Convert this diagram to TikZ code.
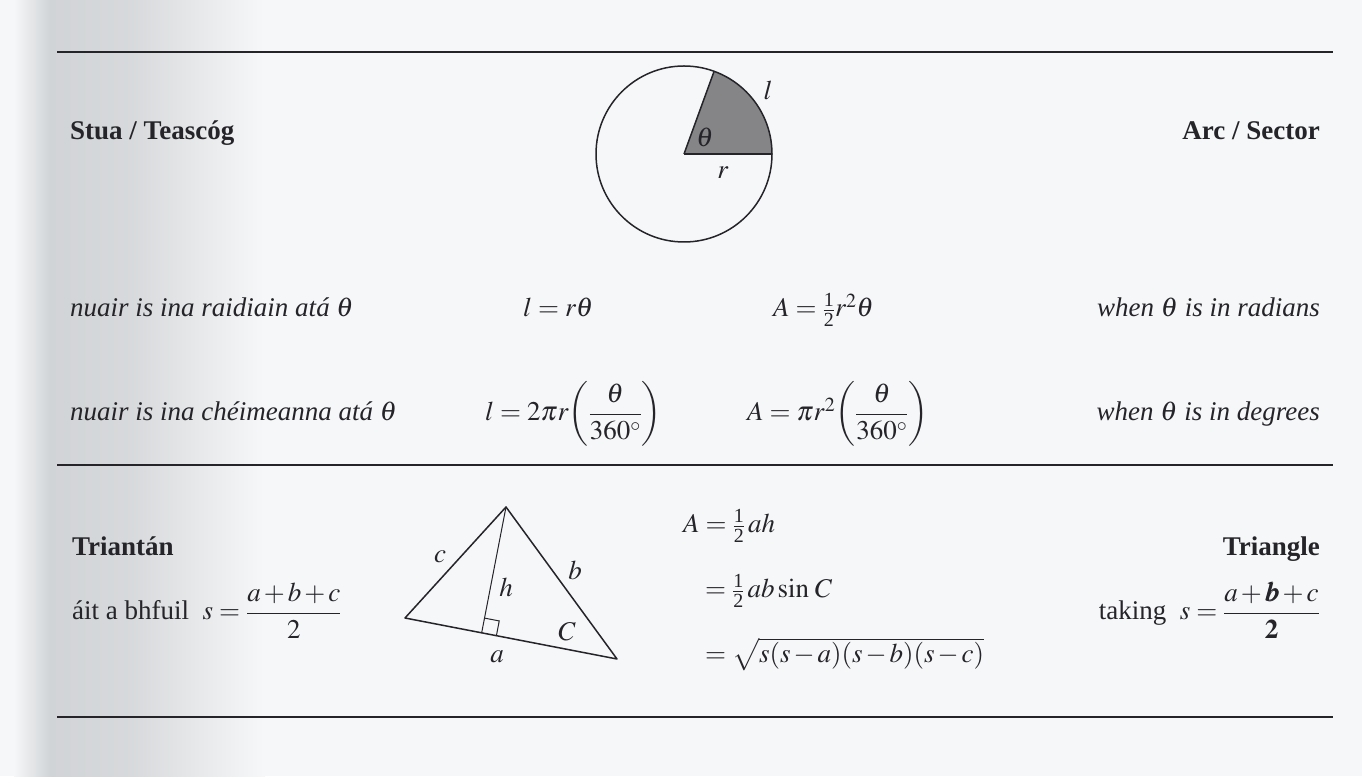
\documentclass[tikz,border=0pt]{standalone}
\usepackage{amsmath}
\usepackage{mathptmx}
\usepackage{bm}
\usepackage[no-math]{fontspec}
\setmainfont{Liberation Serif}
\usetikzlibrary{calc}
\definecolor{paper}{rgb}{0.965,0.970,0.975}
\definecolor{ink}{rgb}{0.14,0.14,0.16}
\definecolor{scan}{rgb}{0.82,0.83,0.84}
\definecolor{sectorfill}{rgb}{0.52,0.52,0.53}
\newcommand{\halff}{\genfrac{}{}{}{1}{\mbox{\fontsize{20}{20}\selectfont 1}}{\mbox{\fontsize{20}{20}\selectfont 2}}}
\newcommand{\tightmath}{\thickmuskip=4mu\medmuskip=2mu}
\begin{document}
\begin{tikzpicture}[x=1pt,y=1pt,
  every node/.style={inner sep=0pt, text=ink, font=\fontsize{27}{32}\selectfont},
  rulebar/.style={line width=1.6pt, draw=ink},
  figline/.style={line width=1.5pt, draw=ink, line join=round},
  lbl/.style={anchor=base west},
  rlbl/.style={anchor=base east},
  fig/.style={anchor=center}]
\useasboundingbox (0,0) rectangle (1362,776);
\fill[paper] (0,0) rectangle (1362,776);
\shade[left color=paper, right color=scan] (14,0) rectangle (50,776);
\shade[left color=scan, right color=scan!85!paper] (50,0) rectangle (130,776);
\shade[left color=scan!85!paper, right color=paper] (130,0) rectangle (265,776);

% rules
\coordinate (t1) at (57,724); \coordinate (t2) at (1333,724);
\coordinate (m1) at (57,311); \coordinate (m2) at (1333,311);
\coordinate (b1) at (57,59);  \coordinate (b2) at (1333,59);
\draw[rulebar] (t1) -- (t2);
\draw[rulebar] (m1) -- (m2);
\draw[rulebar] (b1) -- (b2);

% ---- Arc / Sector ----
\node[lbl] (stua) at (70,636) {\textbf{Stua / Teascóg}};
\node[rlbl] (arcsec) at (1320,636) {\textbf{Arc / Sector}};
\coordinate (O) at (684,622);
\fill[sectorfill] (O) -- ++(0:88) arc[start angle=0, end angle=70, radius=88] -- cycle;
\draw[figline] (O) circle[radius=88];
\draw[figline] (O) -- ++(0:88);
\draw[figline] (O) -- ++(70:88);
\node[fig] (th) at (705,639) {$\theta$};
\node[fig] (ll) at (768,686) {$l$};
\node[fig] (rr) at (723,603) {$r$};

\node[lbl] (rad) at (70,459) {\textit{nuair is ina raidiain atá $\theta$}};
\node[lbl] (f1) at (523,459) {$\tightmath l=r\theta$};
\node[lbl] (f2) at (773,459) {$\tightmath A=\halff r^{2}\theta$};
\node[rlbl] (radE) at (1320,459) {\textit{when $\theta$ is in radians}};

\node[lbl] (deg) at (70,355) {\textit{nuair is ina chéimeanna atá $\theta$}};
\node[lbl] (f3) at (485,355) {$\tightmath l=2\pi r\!\left(\dfrac{\theta}{360^{\circ}}\right)$};
\node[lbl] (f4) at (747,355) {$\tightmath A=\pi r^{2}\!\left(\dfrac{\theta}{360^{\circ}}\right)$};
\node[rlbl] (degE) at (1320,355) {\textit{when $\theta$ is in degrees}};

% ---- Triangle ----
\node[lbl] (trian) at (72,220) {\textbf{Triantán}};
\node[lbl] (sga) at (72,156) {áit a bhfuil~ $\tightmath s=\dfrac{a+b+c}{2}$};
\node[rlbl] (tri) at (1320,220) {\textbf{Triangle}};
\node[rlbl] (sen) at (1320,156) {taking~ $\tightmath s=\dfrac{a+\bm{b}+c}{\mathbf{2}}$};

\coordinate (T) at (506,269);
\coordinate (L) at (405,158);
\coordinate (R) at (617,117);
\coordinate (F) at ($(L)!(T)!(R)$);
\coordinate (F1) at ($(F)!15pt!(R)$);
\coordinate (F2) at ($(F)!15pt!(T)$);
\coordinate (F3) at ($(F1)+(F2)-(F)$);
\draw[figline] (T) -- (L) -- (R) -- cycle;
\draw[line width=1pt, draw=ink] (T) -- (F);
\draw[line width=1pt, draw=ink] (F1) -- (F3) -- (F2);
\node[fig] (lc) at (440,219) {$c$};
\node[fig] (lb) at (575,206) {$b$};
\node[fig] (lh) at (506,189) {$h$};
\node[fig] (lC) at (567,144) {$C$};
\node[fig] (la) at (497,119) {$a$};

\node[lbl] (e1) at (683,243) {$\tightmath A=\halff\,ah$};
\node[lbl] (e2) at (705,178) {$\tightmath =\halff\,ab\sin\,C$};
\node[lbl] (e3) at (705,113) {$\tightmath =\sqrt{s(s-a)(s-b)(s-c)}$};
\end{tikzpicture}
\end{document}
